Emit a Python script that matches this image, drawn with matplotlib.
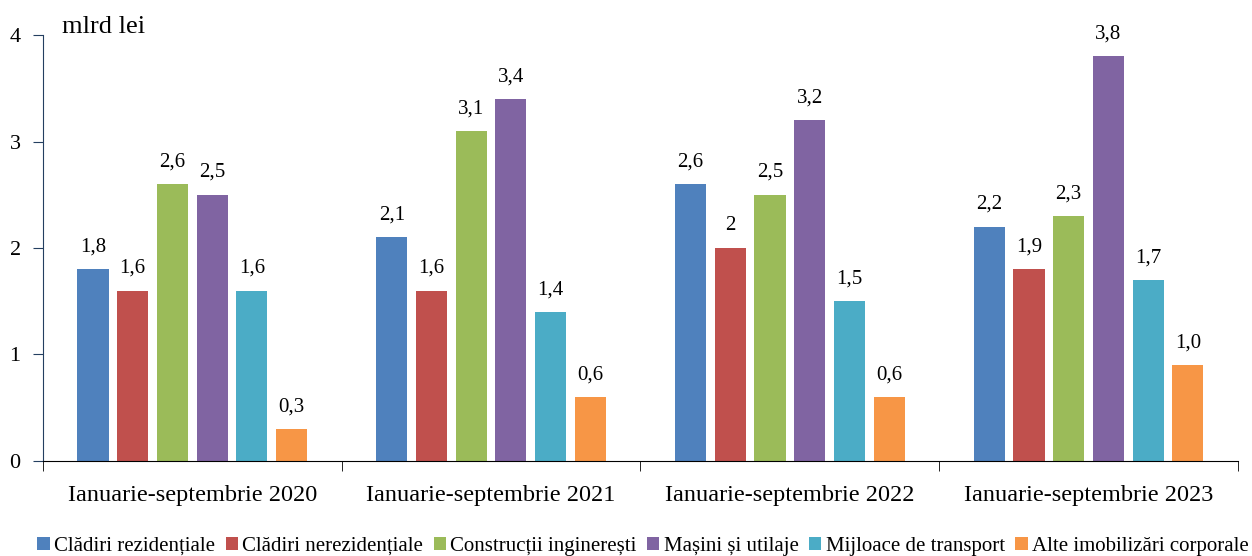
import numpy as np
import matplotlib.pyplot as plt
from matplotlib.patches import Patch
from matplotlib.ticker import FixedLocator, NullFormatter

plt.rcParams['font.family'] = ['Liberation Serif', 'DejaVu Serif']

periods = ["Ianuarie-septembrie 2020", "Ianuarie-septembrie 2021",
           "Ianuarie-septembrie 2022", "Ianuarie-septembrie 2023"]
series = ["Clădiri rezidențiale", "Clădiri nerezidențiale", "Construcții inginerești",
          "Mașini și utilaje", "Mijloace de transport", "Alte imobilizări corporale"]
colors = ["#4F81BD", "#C0504D", "#9BBB59", "#8064A2", "#4BACC6", "#F79646"]

# bar heights as drawn (per series, per period)
rezid = [1.8, 2.1, 2.6, 2.2]
nerezid = [1.6, 1.6, 2.0, 1.8]
constr = [2.6, 3.1, 2.5, 2.3]
masini = [2.5, 3.4, 3.2, 3.8]
transport = [1.6, 1.4, 1.5, 1.7]
alte = [0.3, 0.6, 0.6, 0.9]
values = [rezid, nerezid, constr, masini, transport, alte]

# labels as printed on the chart
lbl_rezid = ["1,8", "2,1", "2,6", "2,2"]
lbl_nerezid = ["1,6", "1,6", "2", "1,9"]
lbl_constr = ["2,6", "3,1", "2,5", "2,3"]
lbl_masini = ["2,5", "3,4", "3,2", "3,8"]
lbl_transport = ["1,6", "1,4", "1,5", "1,7"]
lbl_alte = ["0,3", "0,6", "0,6", "1,0"]
labels = [lbl_rezid, lbl_nerezid, lbl_constr, lbl_masini, lbl_transport, lbl_alte]

fig = plt.figure(figsize=(12.52, 5.56), dpi=100)
ax = fig.add_axes([0.0343, 0.1709, 0.9545, 0.7661])

x = np.arange(len(periods))
step = 0.133
width = 0.104
for j, (vals, lbls, col) in enumerate(zip(values, labels, colors)):
    pos = x + (j - 2.5) * step
    ax.bar(pos, vals, width=width, color=col, zorder=2)
    for p, v, t in zip(pos, vals, lbls):
        ax.text(p, v + 0.12, t, ha="center", va="bottom", fontsize=15)

ax.set_xlim(-0.5, len(periods) - 0.5)
ax.set_ylim(0, 4)
ax.set_yticks([0, 1, 2, 3, 4])
ax.tick_params(axis="y", labelsize=16, length=7, direction="out", pad=9)
ax.set_xticks(x)
ax.set_xticklabels(periods, fontsize=17.5)
ax.tick_params(axis="x", length=0, pad=17)
ax.xaxis.set_minor_locator(FixedLocator(np.arange(-0.5, len(periods), 1.0)))
ax.xaxis.set_minor_formatter(NullFormatter())
ax.tick_params(axis="x", which="minor", length=7, direction="out")

for s in ["top", "right"]:
    ax.spines[s].set_visible(False)
ax.spines["left"].set_color("#243F60")
ax.spines["bottom"].set_color("black")
ax.tick_params(axis="y", color="#243F60")

fig.text(62 / 1252, 1 - 27 / 556, "mlrd lei", fontsize=19, va="center", ha="left")

handles = [Patch(facecolor=c) for c in colors]
fig.legend(handles, series, loc="center", bbox_to_anchor=(643 / 1252, 1 - 546 / 556),
           ncol=6, frameon=False, fontsize=15, handlelength=0.6, handleheight=0.6,
           handletextpad=0.2, columnspacing=0.5, borderaxespad=0)

fig.savefig("out.png", dpi=100)
